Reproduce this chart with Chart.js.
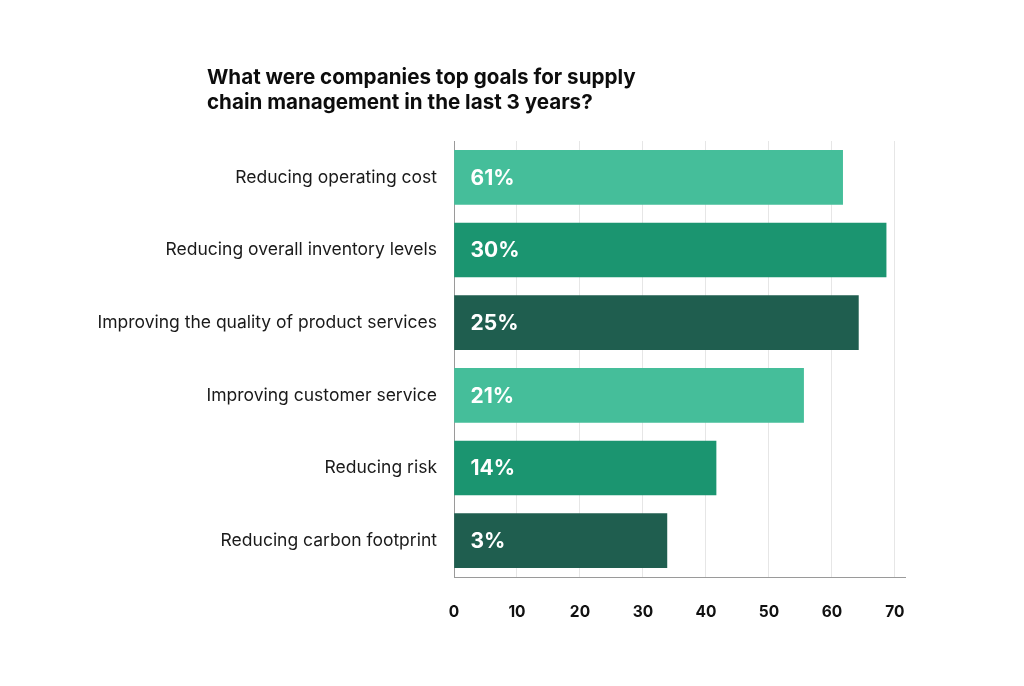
<!DOCTYPE html>
<html>
<head>
<meta charset="utf-8">
<script src="https://cdn.jsdelivr.net/npm/chart.js@4"></script>
<style>
  html, body { margin: 0; padding: 0; background: #ffffff; }
  #wrap { position: relative; width: 1024px; height: 686px; }
  #title {
    position: absolute; left: 207px; top: 64px;
    font-family: Inter, "Noto Sans", sans-serif; font-weight: 700;
    font-size: 20.6px; line-height: 25px; color: #0d0d0d;
  }
  canvas { position: absolute; left: 0; top: 0; }
</style>
</head>
<body>
<div id="wrap">
  <canvas id="c" width="1024" height="686"></canvas>
  <div id="title">What were companies top goals for supply<br>chain management in the last 3 years?</div>
</div>
<script>
const categories = [
  "Reducing operating cost",
  "Reducing overall inventory levels",
  "Improving the quality of product services",
  "Improving customer service",
  "Reducing risk",
  "Reducing carbon footprint"
];
const barValues = [61.7, 68.6, 64.2, 55.5, 41.6, 33.8];
const percentLabels = ["61%", "30%", "25%", "21%", "14%", "3%"];
const barColors = ["#45BE9A", "#1B9570", "#1F5E4F", "#45BE9A", "#1B9570", "#1F5E4F"];
const xTickValues = [0, 10, 20, 30, 40, 50, 60, 70];

const FONT = "Inter, 'Noto Sans', sans-serif";

const barLabelPlugin = {
  id: 'barLabels',
  afterDatasetsDraw(chart) {
    const ctx = chart.ctx;
    const meta = chart.getDatasetMeta(0);
    ctx.save();
    ctx.fillStyle = '#ffffff';
    ctx.font = "700 21px " + FONT;
    ctx.textAlign = 'left';
    ctx.textBaseline = 'middle';
    meta.data.forEach((bar, i) => {
      ctx.fillText(percentLabels[i], bar.base + 16, bar.y + 1);
    });
    ctx.restore();
  }
};

new Chart(document.getElementById('c'), {
  type: 'bar',
  data: {
    labels: categories,
    datasets: [{
      data: barValues,
      backgroundColor: barColors,
      borderWidth: 0,
      barThickness: 54
    }]
  },
  options: {
    indexAxis: 'y',
    responsive: false,
    animation: false,
    devicePixelRatio: 1,
    layout: { padding: { top: 141, right: 119, bottom: 0, left: 0 } },
    plugins: {
      legend: { display: false },
      tooltip: { enabled: false },
      title: { display: false }
    },
    scales: {
      x: {
        type: 'linear',
        min: 0,
        max: 71.6,
        afterBuildTicks(scale) {
          scale.ticks = xTickValues.map(v => ({ value: v }));
        },
        afterFit(scale) { scale.height = 109; },
        grid: { color: '#e6e6e6', lineWidth: 1, drawTicks: false },
        border: { display: true, color: '#9a9a9a', width: 1 },
        ticks: {
          padding: 26,
          color: '#111111',
          font: { family: FONT, size: 15.5, weight: '700' }
        }
      },
      y: {
        afterFit(scale) { scale.width = 454; },
        grid: { display: false, drawTicks: false },
        border: { display: true, color: '#9a9a9a', width: 1 },
        ticks: {
          padding: 17,
          color: '#1a1a1a',
          font: { family: FONT, size: 17.5, weight: '400' }
        }
      }
    }
  },
  plugins: [barLabelPlugin]
});
</script>
</body>
</html>
